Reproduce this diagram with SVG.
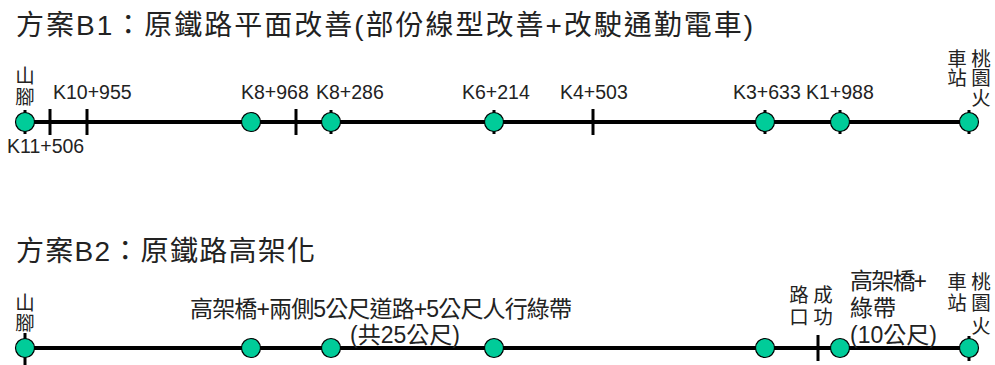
<svg xmlns="http://www.w3.org/2000/svg" width="995" height="365" viewBox="0 0 995 365">
<style>
text{font-family:"Liberation Sans","Noto Sans CJK TC",sans-serif;fill:#222}
.title{font-size:28px}
.km{font-size:19.5px}
.lab{font-size:23px}
.v{font-size:19.5px;text-anchor:middle}
.track{stroke:#000;stroke-width:4;fill:none}
.tick{stroke:#000;stroke-width:3}
.st{fill:#00CC99;stroke:#000;stroke-width:1.2}
</style>
<rect width="995" height="365" fill="#fff"/>

<g id="titles">
<text class="title" x="16" y="35" textLength="737" lengthAdjust="spacing">方案B1：原鐵路平面改善(部份線型改善+改駛通勤電車)</text>
<text class="title" x="16" y="261" textLength="299" lengthAdjust="spacing">方案B2：原鐵路高架化</text>
</g>

<g id="connectors">
<line class="track" x1="25" y1="122" x2="969" y2="122"/>
<line class="track" x1="25" y1="348" x2="969" y2="348"/>
</g>

<g id="ticks-b1">
<line class="tick" x1="50" y1="109" x2="50" y2="135"/>
<line class="tick" x1="87" y1="109" x2="87" y2="135"/>
<line class="tick" x1="296" y1="109" x2="296" y2="135"/>
<line class="tick" x1="593" y1="109" x2="593" y2="135"/>
</g>
<g id="ticks-b2">
<line class="tick" x1="818" y1="335" x2="818" y2="361"/>
</g>

<g id="b1-stations">
<g id="b1-s1"><line class="tick" x1="25" y1="110" x2="25" y2="134"/><circle class="st" cx="25" cy="122" r="9.5"/></g>
<g id="b1-s2"><circle class="st" cx="251" cy="122" r="9.5"/></g>
<g id="b1-s3"><line class="tick" x1="331" y1="110" x2="331" y2="134"/><circle class="st" cx="331" cy="122" r="9.5"/></g>
<g id="b1-s4"><line class="tick" x1="494" y1="110" x2="494" y2="134"/><circle class="st" cx="494" cy="122" r="9.5"/></g>
<g id="b1-s5"><line class="tick" x1="765" y1="110" x2="765" y2="134"/><circle class="st" cx="765" cy="122" r="9.5"/></g>
<g id="b1-s6"><line class="tick" x1="840" y1="110" x2="840" y2="134"/><circle class="st" cx="840" cy="122" r="9.5"/></g>
<g id="b1-s7"><line class="tick" x1="969" y1="110" x2="969" y2="134"/><circle class="st" cx="969" cy="122" r="9.5"/></g>
</g>

<g id="b1-labels">
<text class="v"><tspan x="25" y="83">山</tspan><tspan x="25" y="104">腳</tspan></text>
<text class="km" x="53" y="99">K10+955</text>
<text class="km" x="7" y="153">K11+506</text>
<text class="km" x="241" y="99">K8+968</text>
<text class="km" x="316" y="99">K8+286</text>
<text class="km" x="462" y="99">K6+214</text>
<text class="km" x="560" y="99">K4+503</text>
<text class="km" x="733" y="99">K3+633</text>
<text class="km" x="806" y="99">K1+988</text>
<text class="v"><tspan x="957" y="65.5">車</tspan><tspan x="957" y="85">站</tspan></text>
<text class="v"><tspan x="981" y="65.5">桃</tspan><tspan x="981" y="85">園</tspan><tspan x="981" y="104.5">火</tspan></text>
</g>

<g id="b2-stations">
<g id="b2-s1"><line class="tick" x1="25" y1="333" x2="25" y2="365"/><circle class="st" cx="25" cy="348" r="9.5"/></g>
<g id="b2-s2"><circle class="st" cx="251" cy="348" r="9.5"/></g>
<g id="b2-s3"><circle class="st" cx="331" cy="348" r="9.5"/></g>
<g id="b2-s4"><circle class="st" cx="494" cy="348" r="9.5"/></g>
<g id="b2-s5"><circle class="st" cx="765" cy="348" r="9.5"/></g>
<g id="b2-s6"><circle class="st" cx="840" cy="348" r="9.5"/></g>
<g id="b2-s7"><line class="tick" x1="969" y1="336" x2="969" y2="361"/><circle class="st" cx="969" cy="348" r="9.5"/></g>
</g>

<g id="b2-labels">
<text class="v"><tspan x="25" y="310">山</tspan><tspan x="25" y="329.5">腳</tspan></text>
<text class="lab" x="190" y="317" textLength="382" lengthAdjust="spacing">高架橋+兩側5公尺道路+5公尺人行綠帶</text>
<text class="lab" x="350" y="343" textLength="110" lengthAdjust="spacing">(共25公尺)</text>
<text class="v"><tspan x="799" y="302">路</tspan><tspan x="799" y="324">口</tspan></text>
<text class="v"><tspan x="823" y="302">成</tspan><tspan x="823" y="324">功</tspan></text>
<text class="lab" x="850" y="289" textLength="77" lengthAdjust="spacing">高架橋+</text>
<text class="lab" x="850" y="316">綠帶</text>
<text class="lab" x="850" y="343" textLength="87" lengthAdjust="spacing">(10公尺)</text>
<text class="v"><tspan x="957" y="289">車</tspan><tspan x="957" y="310">站</tspan></text>
<text class="v"><tspan x="981" y="289">桃</tspan><tspan x="981" y="310">園</tspan><tspan x="981" y="333">火</tspan></text>
</g>
</svg>
